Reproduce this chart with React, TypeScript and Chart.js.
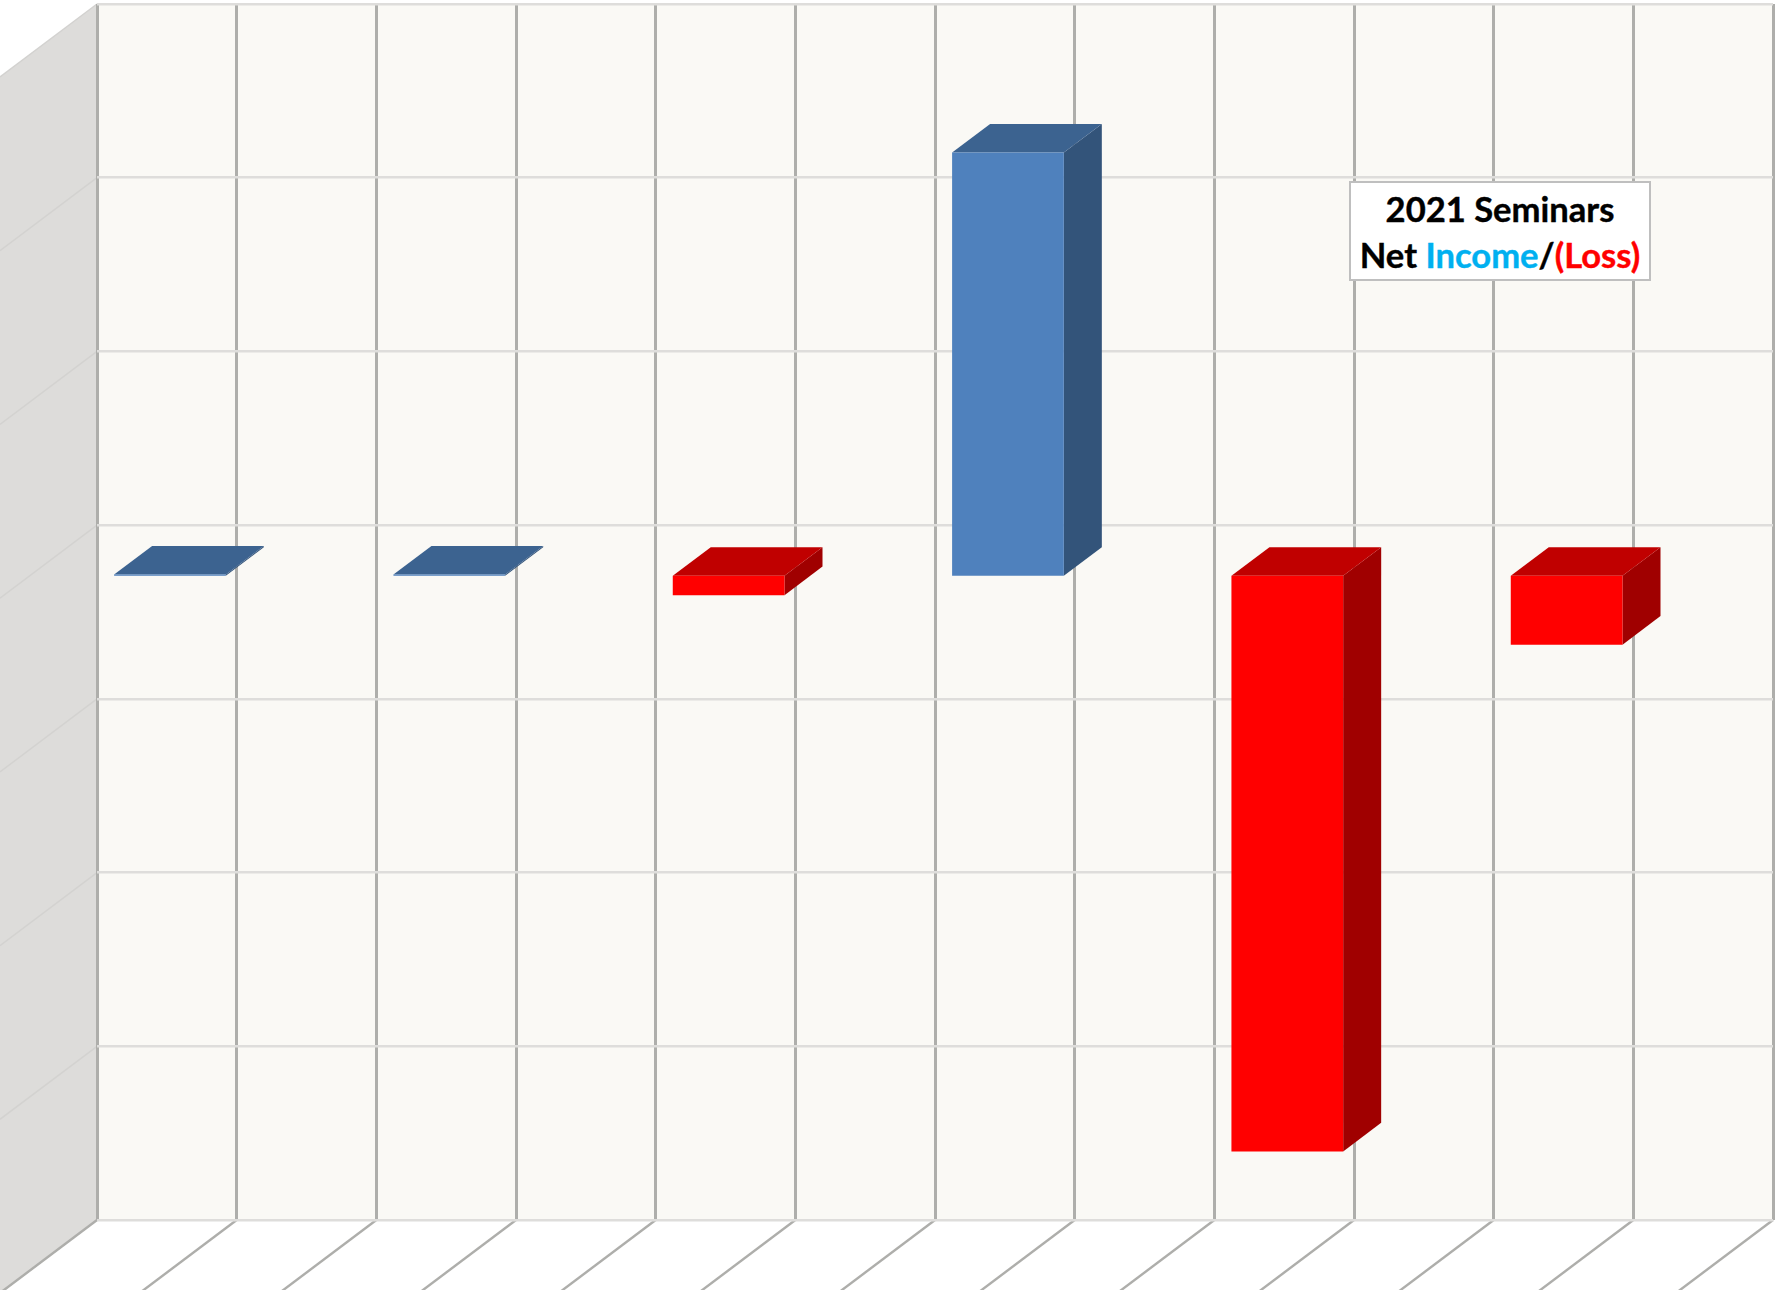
import React, { useEffect, useRef } from "react";
import { Chart, registerables } from "chart.js";

Chart.register(...registerables);

// ---- data ----
const categories = ["Seminar 1", "Seminar 2", "Seminar 3", "Seminar 4", "Seminar 5", "Seminar 6"];
const netIncome = [35, 35, -560, 12180, -16570, -1985];
const titleLine1 = "2021 Seminars";
const titleNet = "Net ";
const titleIncome = "Income";
const titleSlash = "/";
const titleLoss = "(Loss)";

// ---- styles and projection of the fake 3D box ----
const WALL_DX = 97;
const WALL_DY = 73;
const FRONT_DX = -66.7;
const FRONT_DY = 50.6;
const BOX_DX = 38;
const BOX_DY = 28.6;
const BLUE = { front: "#4f81bd", top: "#3c6390", side: "#33547a" };
const RED = { front: "#ff0000", top: "#c00000", side: "#a00000" };
const BACK_WALL = "#faf9f5";
const SIDE_WALL = "#dddcda";
const V_GRID = "#aeaeab";
const H_GRID = "#dedddb";
const SIDE_GRID = "#d3d2d0";

const poly = (ctx: CanvasRenderingContext2D, pts: number[][], fill: string) => {
  ctx.beginPath();
  pts.forEach(([x, y], i) => (i ? ctx.lineTo(x, y) : ctx.moveTo(x, y)));
  ctx.closePath();
  ctx.fillStyle = fill;
  ctx.fill();
};

const walls = {
  id: "walls",
  beforeDraw(chart: any) {
    const { ctx, chartArea: a, scales } = chart;
    ctx.save();
    ctx.fillStyle = BACK_WALL;
    ctx.fillRect(a.left, a.top, a.right - a.left, a.bottom - a.top);
    poly(
      ctx,
      [
        [a.left, a.top],
        [a.left - WALL_DX, a.top + WALL_DY],
        [a.left - WALL_DX, a.bottom + WALL_DY],
        [a.left, a.bottom],
      ],
      SIDE_WALL
    );
    ctx.lineWidth = 1.5;
    ctx.strokeStyle = SIDE_GRID;
    scales.yGrid.ticks.forEach((_: any, i: number) => {
      const y = scales.yGrid.getPixelForTick(i);
      ctx.beginPath();
      ctx.moveTo(a.left, y);
      ctx.lineTo(a.left - WALL_DX, y + WALL_DY);
      ctx.stroke();
    });
    ctx.lineWidth = 2.4;
    ctx.strokeStyle = V_GRID;
    scales.xGrid.ticks.forEach((_: any, i: number) => {
      const x = scales.xGrid.getPixelForTick(i);
      ctx.beginPath();
      ctx.moveTo(x, a.bottom);
      ctx.lineTo(x - WALL_DX, a.bottom + WALL_DY);
      ctx.stroke();
    });
    ctx.restore();
  },
};

const boxes = {
  id: "boxes",
  beforeDatasetsDraw(chart: any) {
    const { ctx } = chart;
    ctx.save();
    ctx.translate(FRONT_DX, FRONT_DY);
    chart.getDatasetMeta(0).data.forEach((bar: any, i: number) => {
      const c = netIncome[i] >= 0 ? BLUE : RED;
      const x0 = bar.x - bar.width / 2;
      const x1 = bar.x + bar.width / 2;
      const top = Math.min(bar.y, bar.base);
      const bottom = Math.max(bar.y, bar.base);
      poly(
        ctx,
        [
          [x1, top],
          [x1 + BOX_DX, top - BOX_DY],
          [x1 + BOX_DX, bottom - BOX_DY],
          [x1, bottom],
        ],
        c.side
      );
      poly(
        ctx,
        [
          [x0, top],
          [x0 + BOX_DX, top - BOX_DY],
          [x1 + BOX_DX, top - BOX_DY],
          [x1, top],
        ],
        c.top
      );
    });
  },
  afterDatasetsDraw(chart: any) {
    chart.ctx.restore();
  },
};

export default function App() {
  const ref = useRef<HTMLCanvasElement>(null);
  useEffect(() => {
    const chart = new Chart(ref.current!, {
      type: "bar",
      data: {
        labels: categories,
        datasets: [
          {
            label: "Net Income/(Loss)",
            data: netIncome,
            xAxisID: "x",
            yAxisID: "y",
            clip: false,
            borderWidth: 0,
            categoryPercentage: 1,
            barPercentage: 0.4,
            backgroundColor: netIncome.map((v) => (v >= 0 ? BLUE.front : RED.front)),
          } as any,
        ],
      },
      options: {
        responsive: false,
        animation: false,
        layout: { padding: { left: 97, right: 2, top: 4, bottom: 70 } },
        plugins: { legend: { display: false }, tooltip: { enabled: false }, title: { display: false } },
        scales: {
          x: { type: "category", display: false },
          y: { type: "linear", display: false, min: -20000, max: 15000 },
          xGrid: {
            type: "linear",
            position: "bottom",
            min: 0,
            max: 12,
            offset: false,
            afterBuildTicks: (s: any) => {
              s.ticks = Array.from({ length: 13 }, (_, i) => ({ value: i }));
            },
            ticks: { display: false },
            border: { display: false },
            grid: { offset: false, color: V_GRID, lineWidth: 3, drawTicks: false },
            afterFit: (s: any) => {
              s.height = 0;
            },
          },
          yGrid: {
            type: "linear",
            position: "left",
            min: -20000,
            max: 15000,
            ticks: { display: false, stepSize: 5000 },
            border: { display: false },
            grid: { color: H_GRID, lineWidth: 2.5, drawTicks: false },
            afterFit: (s: any) => {
              s.width = 0;
            },
          },
        },
      } as any,
      plugins: [walls, boxes],
    });
    return () => chart.destroy();
  }, []);

  return (
    <div style={{ position: "absolute", left: 0, top: 0, width: 1775, height: 1290, overflow: "hidden", background: "#fff" }}>
      <canvas ref={ref} width={1775} height={1290} style={{ display: "block" }} />
      <div
        style={{
          position: "absolute",
          left: 1349,
          top: 181,
          width: 302,
          height: 100,
          boxSizing: "border-box",
          background: "#fff",
          border: "2px solid #bfbfbf",
          textAlign: "center",
          fontFamily: "Lato, sans-serif",
          fontWeight: 700,
          fontSize: 34.6,
          lineHeight: "46px",
          color: "#000",
          paddingTop: 3,
          whiteSpace: "nowrap",
          WebkitTextStroke: "0.4px",
        }}
      >
        <div>{titleLine1}</div>
        <div>
          {titleNet}
          <span style={{ color: "#00b0f0" }}>{titleIncome}</span>
          {titleSlash}
          <span style={{ color: "#ff0000" }}>{titleLoss}</span>
        </div>
      </div>
    </div>
  );
}
